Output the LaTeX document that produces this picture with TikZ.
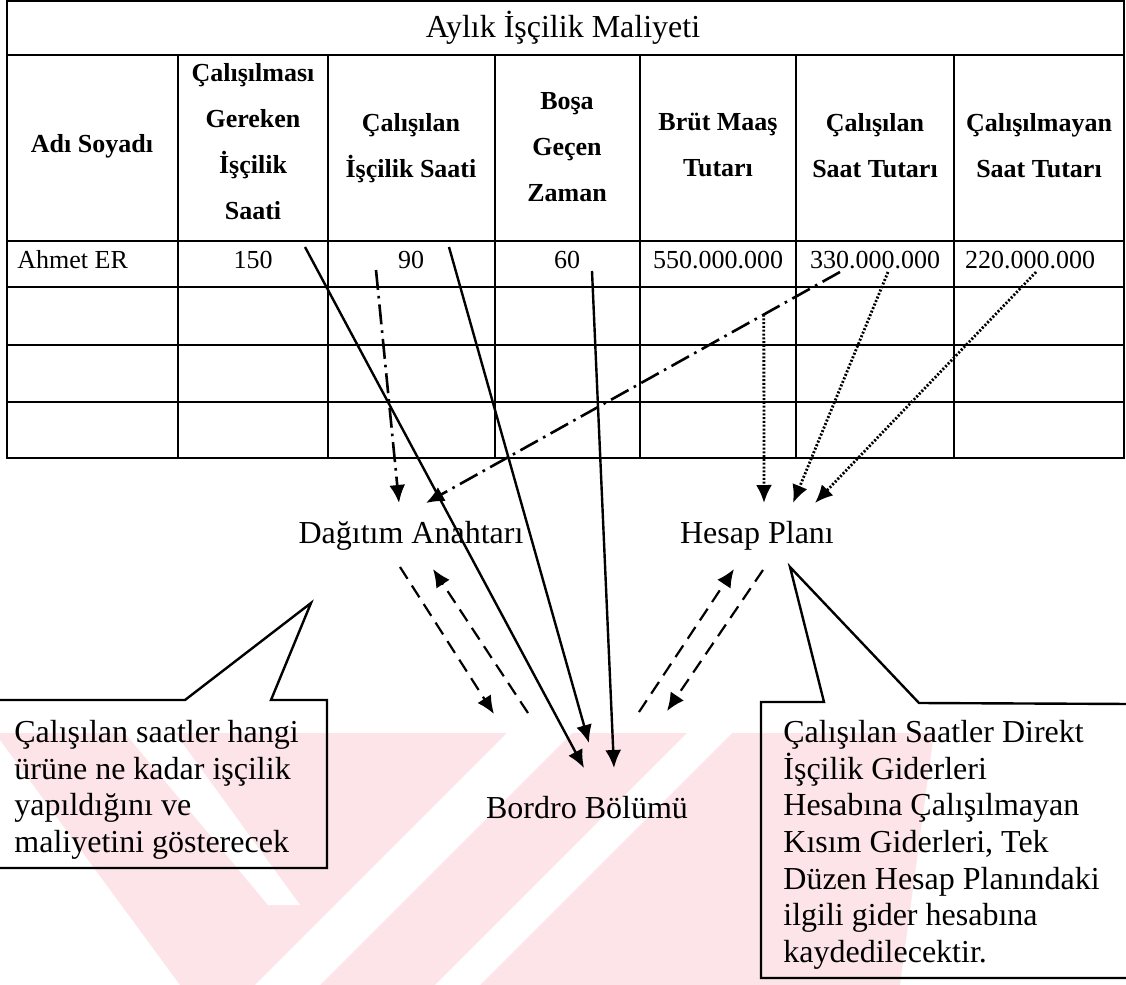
\documentclass[tikz,border=0pt]{standalone}
\usepackage{fontspec}
\setmainfont{Liberation Serif}
\usetikzlibrary{arrows.meta}

\definecolor{wmpink}{RGB}{252,228,233}

\tikzset{
  tblline/.style={line width=1.2pt},
  hdr/.style={font=\fontsize{13pt}{23pt}\selectfont\bfseries, align=center, inner sep=0pt, anchor=north},
  cell/.style={font=\fontsize{13pt}{15pt}\selectfont, inner sep=0pt, anchor=base},
  lbl/.style={font=\fontsize{16pt}{18.3pt}\selectfont, inner sep=0pt, anchor=base},
  note/.style={font=\fontsize{16pt}{18.3pt}\selectfont, align=left, inner sep=0pt, anchor=north west},
  arrtip/.style={-{Latex[length=9pt,width=8pt]}},
  solidarr/.style={arrtip, line width=1.2pt},
  dasharr/.style={arrtip, line width=1.1pt, dash pattern=on 7pt off 4pt},
  dotarr/.style={arrtip, line width=1.4pt, dash pattern=on 1pt off 0.9pt},
  dotdasharr/.style={arrtip, line width=1.3pt, dash pattern=on 10pt off 3pt on 1.3pt off 3pt},
}

\begin{document}
\begin{tikzpicture}[x=0.5pt,y=-0.5pt]
  \useasboundingbox (0,0) rectangle (1126,985);

  % watermark in the background
  \begin{scope}
    \clip (0,733) -- (934,733) -- (900,985) -- (180,985) -- (0,740) -- cycle;
    \fill[wmpink] (0,733) rectangle (1126,985);
    \foreach \a/\b in {1240/1305,1420/1465}
      \fill[white] (\a-733,733) -- (\b-733,733) -- (\b-985,985) -- (\a-985,985) -- cycle;
    \fill[white] (125,733) -- (175,733) -- (300,905) -- (268,905) -- cycle;
  \end{scope}

  % table
  \draw[tblline] (7,1) rectangle (1124,458);
  \foreach \y in {55,241,287,345,402}
    \draw[tblline] (7,\y) -- (1124,\y);
  \foreach \x in {178,328,495,640,796,954}
    \draw[tblline] (\x,55) -- (\x,458);

  \node[lbl] (title) at (563,37) {Aylık İşçilik Maliyeti};

  \node[cell] (hname) at (92,152) {\bfseries Adı Soyadı};
  \node[hdr] (hreq) at (253,63) {Çalışılması\\Gereken\\İşçilik\\Saati};
  \node[hdr] (hwrk) at (411,113) {Çalışılan\\İşçilik Saati};
  \node[hdr] (hidle) at (567,92) {Boşa\\Geçen\\Zaman};
  \node[hdr] (hgross) at (718,113) {Brüt Maaş\\Tutarı};
  \node[hdr] (hwamt) at (875,113) {Çalışılan\\Saat Tutarı};
  \node[hdr] (hiamt) at (1039,113) {Çalışılmayan\\Saat Tutarı};

  \node[cell, anchor=base west] (name) at (17,268) {Ahmet ER};
  \node[cell] (req) at (253,268) {150};
  \node[cell] (wrk) at (411,268) {90};
  \node[cell] (idle) at (567,268) {60};
  \node[cell] (gross) at (718,268) {550.000.000};
  \node[cell] (wamt) at (875,268) {330.000.000};
  \node[cell] (iamt) at (1030,268) {220.000.000};

  % targets
  \node[lbl] (dag) at (411,543) {Dağıtım Anahtarı};
  \node[lbl] (hesap) at (757,543) {Hesap Planı};
  \node[lbl] (bordro) at (587,818) {Bordro Bölümü};

  \coordinate (reqout) at (305,247);
  \coordinate (wrkout) at (449,247);
  \coordinate (idleout) at (592,271);
  \coordinate (wrkdist) at (376,270);
  \coordinate (wamtdist) at (840,272);
  \coordinate (wamtacc) at (888,272);
  \coordinate (iamtacc) at (1036,272);
  \coordinate (bord1) at (584,768);
  \coordinate (bord2) at (589,743);
  \coordinate (bord3) at (614,768);
  \coordinate (dagin1) at (399,503);
  \coordinate (dagin2) at (426,503);
  \coordinate (hesin1) at (764,503);
  \coordinate (hesin2) at (793,503);
  \coordinate (hesin3) at (815,503);
  \coordinate (dagdown) at (400,567);
  \coordinate (dagup) at (433,569);
  \coordinate (hesdown) at (734,569);
  \coordinate (hesup) at (763,570);
  \coordinate (bordl1) at (494,714);
  \coordinate (bordl2) at (528,713);
  \coordinate (bordr1) at (639,712);
  \coordinate (bordr2) at (667,711);

  \draw[solidarr] (reqout) -- (bord1);
  \draw[solidarr] (wrkout) -- (bord2);
  \draw[solidarr] (idleout) -- (bord3);

  \draw[dotdasharr] (wrkdist) -- (dagin1);
  \draw[dotdasharr] (wamtdist) -- coordinate[pos=0.184] (split) (dagin2);

  \draw[dotarr] (split) -- (hesin1);
  \draw[dotarr] (wamtacc) -- (hesin2);
  \draw[dotarr] (iamtacc) -- (hesin3);

  \draw[dasharr] (dagdown) -- (bordl1);
  \draw[dasharr] (bordl2) -- (dagup);
  \draw[dasharr] (bordr1) -- (hesdown);
  \draw[dasharr] (hesup) -- (bordr2);

  % callouts
  \draw[tblline] (-5,700) -- (185,700) -- (311,603) -- (271,700) -- (327,700) -- (327,868) -- (-5,868);
  \node[note] (leftnote) at (14,720) {Çalışılan saatler hangi\\ürüne ne kadar işçilik\\yapıldığını ve\\maliyetini gösterecek};

  \draw[tblline] (1131,704) -- (919,703) -- (790,567) -- (824,702) -- (761,702) -- (761,978) -- (1131,978);
  \node[note] (rightnote) at (783,720) {Çalışılan Saatler Direkt\\İşçilik Giderleri\\Hesabına Çalışılmayan\\Kısım Giderleri, Tek\\Düzen Hesap Planındaki\\ilgili gider hesabına\\kaydedilecektir.};
\end{tikzpicture}
\end{document}
